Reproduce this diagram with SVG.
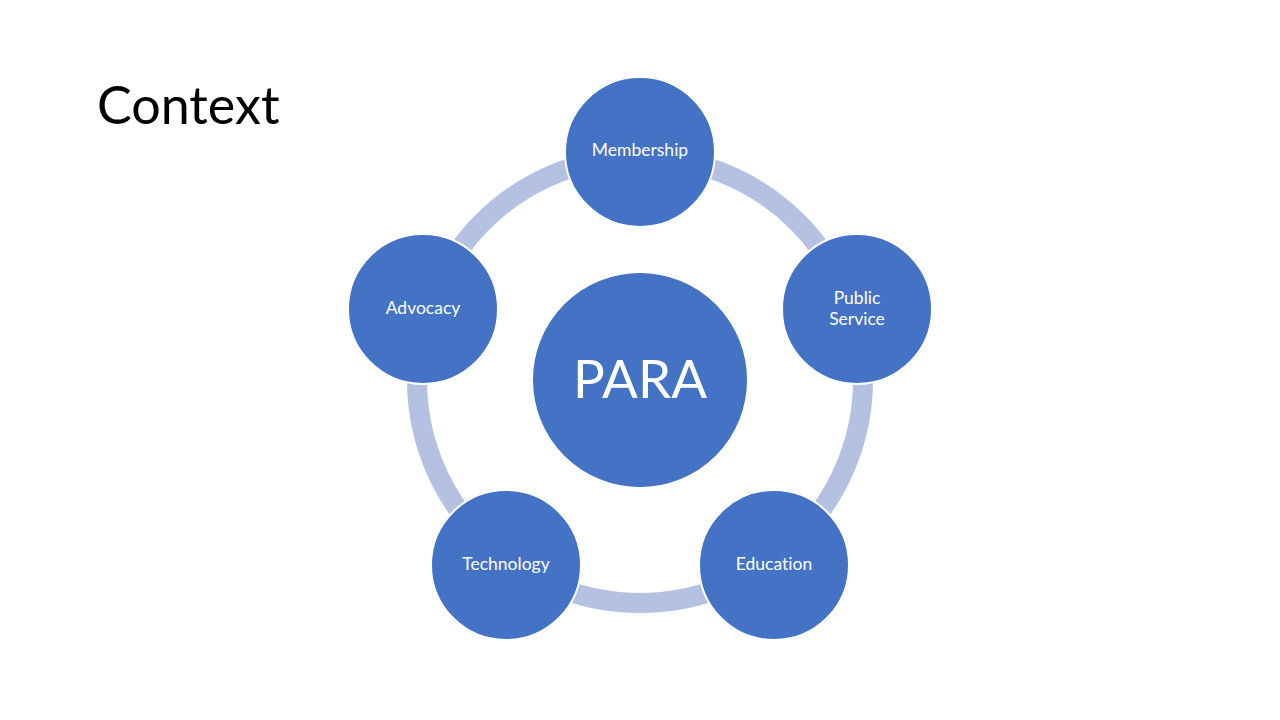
<svg xmlns="http://www.w3.org/2000/svg" width="1280" height="720" viewBox="0 0 1280 720">
<style>
.node{fill:#4472C4;stroke:#FFFFFF;stroke-width:2}
.lbl{font-family:Lato,"Open Sans","Liberation Sans",sans-serif;font-size:17.5px;fill:#FFFFFF;text-anchor:middle;font-variant-ligatures:none}
</style>
<rect width="1280" height="720" fill="#FFFFFF"/>
<text x="97" y="124" font-family="Lato,'Open Sans','Liberation Sans',sans-serif" font-size="52" fill="#000000">Context</text>
<g id="connectors">
<circle cx="640" cy="380" r="223" fill="none" stroke="#B4C1E1" stroke-width="20"/>
</g>
<g id="para"><circle class="node" cx="640" cy="380" r="108"/><text x="640" y="398" font-family="Lato,'Open Sans','Liberation Sans',sans-serif" font-size="53" fill="#FFFFFF" text-anchor="middle">PARA</text></g>
<g id="membership"><circle class="node" cx="640" cy="152" r="75"/><text class="lbl" x="640" y="156">Membership</text></g>
<g id="public-service"><circle class="node" cx="857" cy="309" r="75"/><text class="lbl" x="857" y="304">Public</text><text class="lbl" x="857" y="325">Service</text></g>
<g id="education"><circle class="node" cx="774" cy="565" r="75"/><text class="lbl" x="774" y="570">Education</text></g>
<g id="technology"><circle class="node" cx="506" cy="565" r="75"/><text class="lbl" x="506" y="570">Technology</text></g>
<g id="advocacy"><circle class="node" cx="423" cy="309" r="75"/><text class="lbl" x="423" y="314">Advocacy</text></g>
</svg>
